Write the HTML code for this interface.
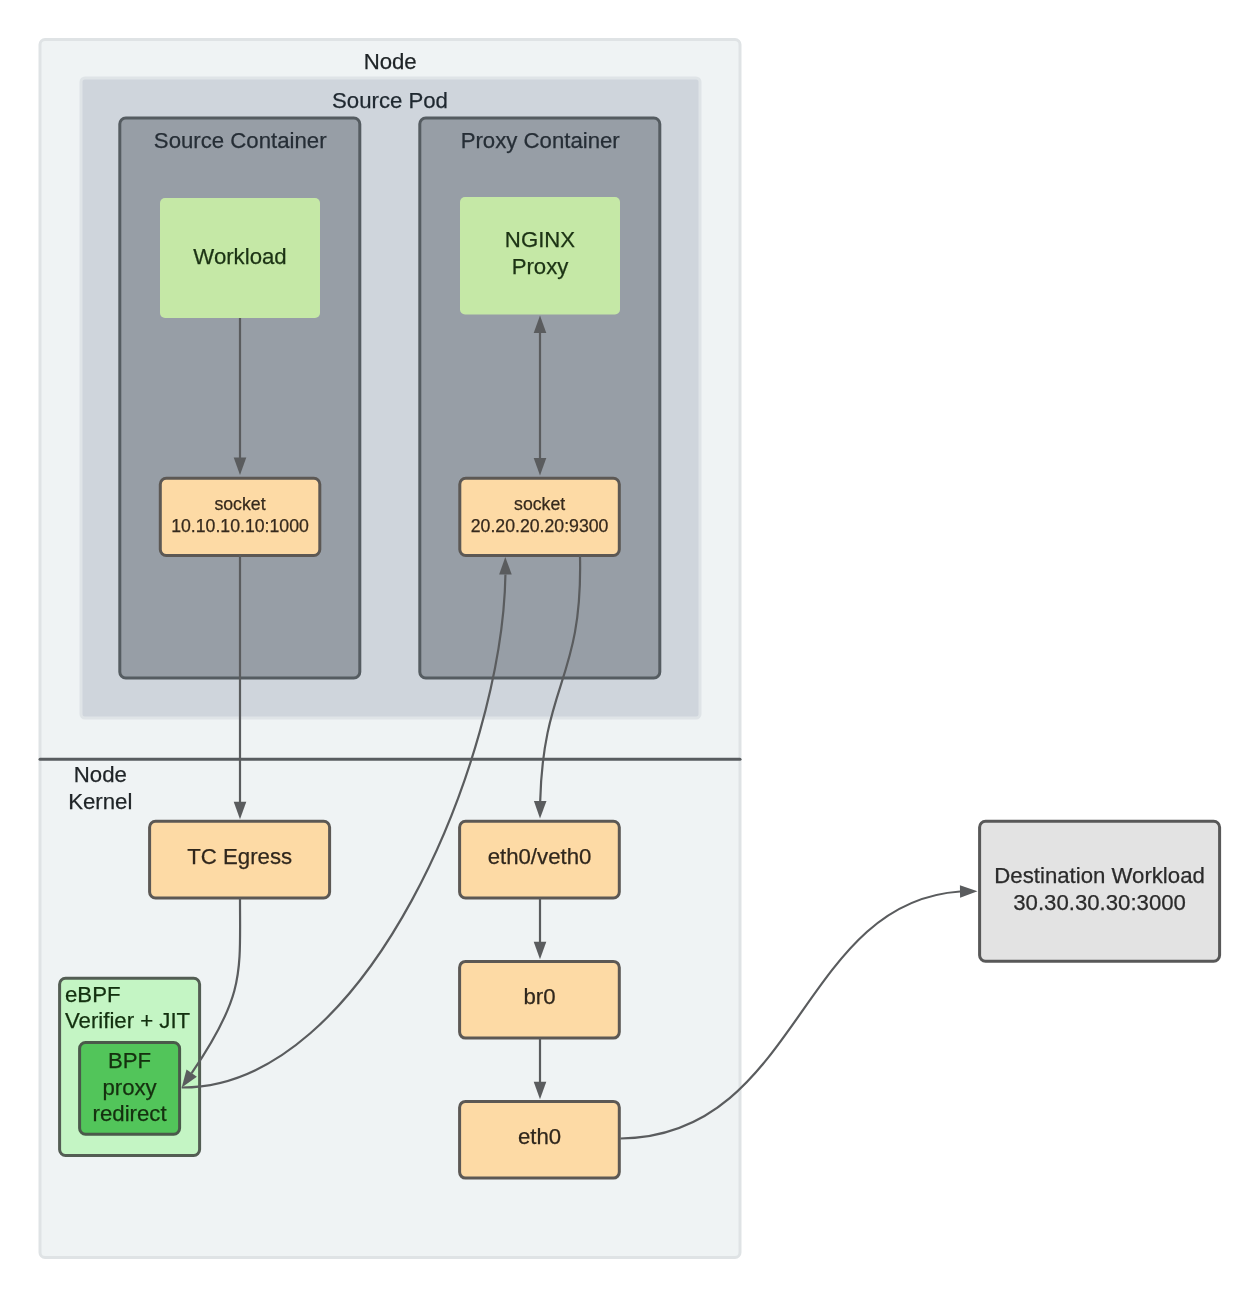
<!DOCTYPE html>
<html><head><meta charset="utf-8"><title>Diagram</title>
<style>
html,body{margin:0;padding:0;background:#ffffff;}
body{width:1260px;height:1299px;overflow:hidden;}
svg{display:block;font-family:"Liberation Sans", sans-serif;will-change:transform;}
</style></head><body>
<svg width="1260" height="1299" viewBox="0 0 1260 1299">
<rect x="0" y="0" width="1260" height="1299" fill="#ffffff"/>
<rect x="40" y="39.5" width="700" height="1218" rx="5" ry="5" fill="#eff3f4" stroke="#dfe3e5" stroke-width="3"/>
<text x="390.2" y="69.1" font-size="22.2" fill="#1f2427" stroke="#1f2427" stroke-width="0.25" text-anchor="middle">Node</text>
<rect x="81" y="78" width="619" height="640" rx="4" ry="4" fill="#cfd5dc" stroke="#dfe4e7" stroke-width="3"/>
<text x="390" y="107.9" font-size="22.2" fill="#1f2830" stroke="#1f2830" stroke-width="0.25" text-anchor="middle">Source Pod</text>
<rect x="119.8" y="118" width="240" height="560" rx="6" ry="6" fill="#979ea6" stroke="#555c61" stroke-width="3"/>
<text x="240.2" y="147.6" font-size="22.2" fill="#262e36" stroke="#262e36" stroke-width="0.25" text-anchor="middle">Source Container</text>
<rect x="419.8" y="118" width="240" height="560" rx="6" ry="6" fill="#979ea6" stroke="#555c61" stroke-width="3"/>
<text x="540.2" y="147.6" font-size="22.2" fill="#262e36" stroke="#262e36" stroke-width="0.25" text-anchor="middle">Proxy Container</text>
<rect x="160" y="198" width="160" height="120" rx="5" ry="5" fill="#c5e8a6"/>
<text x="240" y="263.8" font-size="22.2" fill="#1c3314" stroke="#1c3314" stroke-width="0.25" text-anchor="middle">Workload</text>
<rect x="460" y="197" width="160" height="117.5" rx="5" ry="5" fill="#c5e8a6"/>
<text x="540" y="247" font-size="22.2" fill="#1c3314" stroke="#1c3314" stroke-width="0.25" text-anchor="middle">NGINX</text>
<text x="540" y="273.6" font-size="22.2" fill="#1c3314" stroke="#1c3314" stroke-width="0.25" text-anchor="middle">Proxy</text>
<rect x="160.3" y="478.3" width="159.5" height="77.2" rx="6" ry="6" fill="#fddaa5" stroke="#5c5854" stroke-width="3"/>
<text x="240" y="510" font-size="17.7" fill="#35291d" stroke="#35291d" stroke-width="0.25" text-anchor="middle">socket</text>
<text x="240" y="531.5" font-size="17.7" fill="#35291d" stroke="#35291d" stroke-width="0.25" text-anchor="middle">10.10.10.10:1000</text>
<rect x="459.8" y="478.3" width="159.5" height="77.2" rx="6" ry="6" fill="#fddaa5" stroke="#5c5854" stroke-width="3"/>
<text x="539.6" y="510" font-size="17.7" fill="#35291d" stroke="#35291d" stroke-width="0.25" text-anchor="middle">socket</text>
<text x="539.6" y="531.5" font-size="17.7" fill="#35291d" stroke="#35291d" stroke-width="0.25" text-anchor="middle">20.20.20.20:9300</text>
<line x1="40" y1="759.3" x2="740" y2="759.3" stroke="#585c5f" stroke-width="3" stroke-linecap="round"/>
<text x="100.3" y="781.9" font-size="22.2" fill="#1f2427" stroke="#1f2427" stroke-width="0.25" text-anchor="middle">Node</text>
<text x="100.3" y="808.6" font-size="22.2" fill="#1f2427" stroke="#1f2427" stroke-width="0.25" text-anchor="middle">Kernel</text>
<rect x="149.6" y="821.3" width="180" height="76.7" rx="6" ry="6" fill="#fddaa5" stroke="#5c5854" stroke-width="3"/>
<text x="239.7" y="863.8" font-size="22.2" fill="#30271d" stroke="#30271d" stroke-width="0.25" text-anchor="middle">TC Egress</text>
<rect x="459.6" y="821.3" width="159.7" height="76.7" rx="6" ry="6" fill="#fddaa5" stroke="#5c5854" stroke-width="3"/>
<text x="539.5" y="863.8" font-size="22.2" fill="#30271d" stroke="#30271d" stroke-width="0.25" text-anchor="middle">eth0/veth0</text>
<rect x="459.6" y="961.4" width="159.7" height="76.7" rx="6" ry="6" fill="#fddaa5" stroke="#5c5854" stroke-width="3"/>
<text x="539.5" y="1003.9" font-size="22.2" fill="#30271d" stroke="#30271d" stroke-width="0.25" text-anchor="middle">br0</text>
<rect x="459.6" y="1101.4" width="159.7" height="76.7" rx="6" ry="6" fill="#fddaa5" stroke="#5c5854" stroke-width="3"/>
<text x="539.5" y="1143.9" font-size="22.2" fill="#30271d" stroke="#30271d" stroke-width="0.25" text-anchor="middle">eth0</text>
<rect x="979.6" y="821.3" width="240" height="140" rx="6" ry="6" fill="#e3e3e3" stroke="#585858" stroke-width="3"/>
<text x="1099.6" y="883" font-size="22.2" fill="#2b2b2b" stroke="#2b2b2b" stroke-width="0.25" text-anchor="middle">Destination Workload</text>
<text x="1099.6" y="909.6" font-size="22.2" fill="#2b2b2b" stroke="#2b2b2b" stroke-width="0.25" text-anchor="middle">30.30.30.30:3000</text>
<rect x="59.6" y="978.3" width="140" height="177.2" rx="6" ry="6" fill="#c4f5c4" stroke="#535d53" stroke-width="3"/>
<text x="65" y="1001.8" font-size="22.2" fill="#13300f" stroke="#13300f" stroke-width="0.25" text-anchor="start">eBPF</text>
<text x="65" y="1028.4" font-size="22.2" fill="#13300f" stroke="#13300f" stroke-width="0.25" text-anchor="start">Verifier + JIT</text>
<rect x="79.6" y="1042.5" width="100" height="91.7" rx="6" ry="6" fill="#52c55a" stroke="#4a5a4a" stroke-width="3"/>
<text x="129.6" y="1068" font-size="22.2" fill="#15300f" stroke="#15300f" stroke-width="0.25" text-anchor="middle">BPF</text>
<text x="129.6" y="1094.6" font-size="22.2" fill="#15300f" stroke="#15300f" stroke-width="0.25" text-anchor="middle">proxy</text>
<text x="129.6" y="1121.2" font-size="22.2" fill="#15300f" stroke="#15300f" stroke-width="0.25" text-anchor="middle">redirect</text>
<line x1="240" y1="318" x2="240" y2="459" stroke="#5a5c5e" stroke-width="2.2"/>
<polygon points="240.00,475.00 233.70,457.50 246.30,457.50" fill="#5a5c5e"/>
<line x1="540" y1="332" x2="540" y2="459" stroke="#5a5c5e" stroke-width="2.2"/>
<polygon points="540.00,315.50 546.30,333.00 533.70,333.00" fill="#5a5c5e"/>
<polygon points="540.00,475.50 533.70,458.00 546.30,458.00" fill="#5a5c5e"/>
<line x1="240" y1="555" x2="240" y2="803" stroke="#5a5c5e" stroke-width="2.2"/>
<polygon points="240.00,819.30 233.70,801.80 246.30,801.80" fill="#5a5c5e"/>
<polygon points="181.70,1087.50 186.52,1069.54 196.86,1076.73" fill="#5a5c5e"/>
<path d="M240.00,898.00 C240.00,973.79 245.00,994.92 191.63,1073.23" fill="none" stroke="#5a5c5e" stroke-width="2.2"/>
<polygon points="505.30,557.00 511.73,574.45 499.13,574.55" fill="#5a5c5e"/>
<path d="M181.70,1087.50 C366.97,1088.47 502.44,757.86 505.43,574.42" fill="none" stroke="#5a5c5e" stroke-width="2.2"/>
<polygon points="540.00,818.50 533.90,800.93 546.50,801.07" fill="#5a5c5e"/>
<path d="M580.00,555.50 C582.87,679.52 543.37,682.21 540.20,801.11" fill="none" stroke="#5a5c5e" stroke-width="2.2"/>
<line x1="540" y1="898" x2="540" y2="944" stroke="#5a5c5e" stroke-width="2.2"/>
<polygon points="540.00,959.30 533.70,941.80 546.30,941.80" fill="#5a5c5e"/>
<line x1="540" y1="1038" x2="540" y2="1084" stroke="#5a5c5e" stroke-width="2.2"/>
<polygon points="540.00,1099.30 533.70,1081.80 546.30,1081.80" fill="#5a5c5e"/>
<polygon points="977.50,891.20 960.10,897.78 959.90,885.18" fill="#5a5c5e"/>
<path d="M620.50,1138.50 C800.17,1136.66 798.72,902.14 960.12,891.48" fill="none" stroke="#5a5c5e" stroke-width="2.2"/>
</svg>
</body></html>
